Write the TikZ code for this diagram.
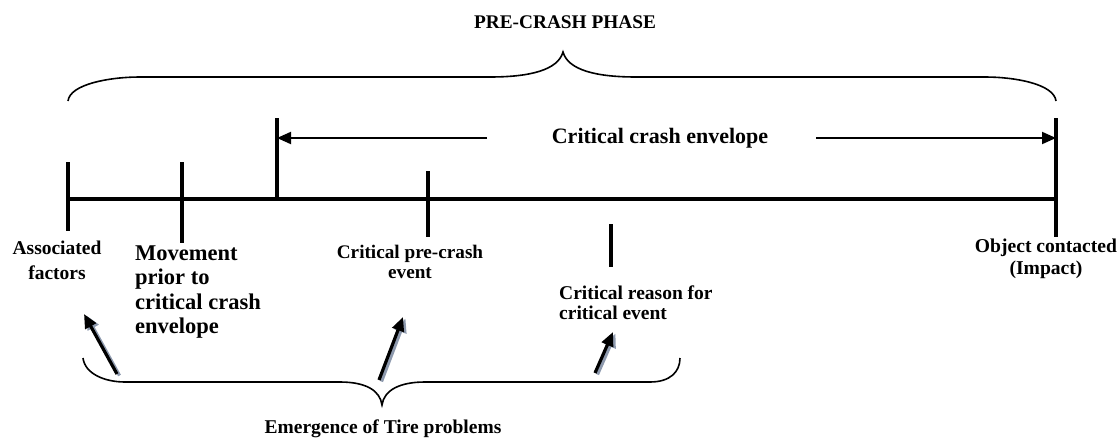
\documentclass[tikz,border=0pt]{standalone}
\usepackage{fontspec}
\setmainfont{Liberation Serif}
\usetikzlibrary{arrows.meta}
\definecolor{shadowgray}{HTML}{8E9AAE}
\begin{document}
\begin{tikzpicture}[x=1pt,y=-1pt,
  lbl/.style={font=\bfseries, inner sep=0pt},
  axis/.style={line width=4pt},
  brace/.style={line width=1.6pt},
  env/.style={line width=2pt,-{Triangle[length=14pt,width=12pt]}},
  uparrow/.style={line width=3.2pt,-{Triangle[length=14pt,width=12pt]}},
  upshadow/.style={uparrow, draw=shadowgray, fill=shadowgray}
]
\useasboundingbox (0,0) rectangle (1119,439);

% timeline
\coordinate (L) at (68,199);
\coordinate (R) at (1056,199);
\draw[axis] (L) -- (R);

% ticks
\coordinate (aT) at (68,162);  \coordinate (aB) at (68,231);
\coordinate (bT) at (182,162); \coordinate (bB) at (182,243);
\coordinate (cT) at (277,118); \coordinate (cB) at (277,199);
\coordinate (dT) at (428,171); \coordinate (dB) at (428,237);
\coordinate (eT) at (611,224); \coordinate (eB) at (611,267);
\coordinate (fT) at (1056,118); \coordinate (fB) at (1056,237);
\draw[axis] (aT) -- (aB);
\draw[axis] (bT) -- (bB);
\draw[axis] (cT) -- (cB);
\draw[axis] (dT) -- (dB);
\draw[axis] (eT) -- (eB);
\draw[axis] (fT) -- (fB);

% top brace
\coordinate (tbL) at (68,101);
\coordinate (tbM) at (563,52);
\coordinate (tbR) at (1056,101);
\draw[brace] (tbL) .. controls (70,84) and (110,77) .. (140,77) -- (490,77)
  .. controls (530,77) and (558,70) .. (tbM)
  .. controls (568,70) and (596,77) .. (636,77) -- (985,77)
  .. controls (1015,77) and (1054,84) .. (tbR);
\node[lbl, font=\bfseries\fontsize{19.3}{23}\selectfont] (phase) at (565,22) {PRE-CRASH PHASE};

% critical crash envelope
\node[lbl, font=\bfseries\fontsize{22}{26}\selectfont] (envelope) at (660,138) {Critical crash envelope};
\coordinate (envLs) at (487,138);
\coordinate (envRs) at (816,138);
\coordinate (envLe) at (277,138);
\coordinate (envRe) at (1056,138);
\draw[env] (envLs) -- (envLe);
\draw[env] (envRs) -- (envRe);

% labels
\node[lbl, font=\bfseries\fontsize{19.5}{25}\selectfont, align=center] (assoc) at (57,260) {Associated\\factors};
\node[lbl, font=\bfseries\fontsize{22.5}{24.6}\selectfont, align=left, anchor=west] (move) at (135,292) {Movement\\prior to\\critical crash\\envelope};
\node[lbl, font=\bfseries\fontsize{19.2}{20.5}\selectfont, align=center] (event) at (410,262) {Critical pre-crash\\event};
\node[lbl, font=\bfseries\fontsize{19.5}{20}\selectfont, align=left, anchor=west] (reason) at (559,303) {Critical reason for\\critical event};
\node[lbl, font=\bfseries\fontsize{19.6}{22}\selectfont, align=center] (object) at (1046,259) {Object contacted\\(Impact)};

% bottom brace
\coordinate (bbL) at (83,358);
\coordinate (bbM) at (382,405);
\coordinate (bbR) at (680,358);
\draw[brace] (bbL) .. controls (85,374) and (105,382) .. (125,382) -- (340,382)
  .. controls (365,382) and (380,390) .. (bbM)
  .. controls (384,390) and (400,382) .. (425,382) -- (650,382)
  .. controls (670,382) and (680,372) .. (bbR);
\node[lbl, font=\bfseries\fontsize{19.5}{22}\selectfont] (tire) at (383,429) {Emergence of Tire problems};

% upward arrows with shadow
\coordinate (t1) at (117,374); \coordinate (h1) at (84,314);
\coordinate (t2) at (379,380); \coordinate (h2) at (403,317);
\coordinate (t3) at (595,373); \coordinate (h3) at (613,332);
\draw[upshadow] ([shift={(2.5,1.5)}]t1) -- ([shift={(2.5,1.5)}]h1);
\draw[upshadow] ([shift={(2.5,1.5)}]t2) -- ([shift={(2.5,1.5)}]h2);
\draw[upshadow] ([shift={(2.5,1.5)}]t3) -- ([shift={(2.5,1.5)}]h3);
\draw[uparrow] (t1) -- (h1);
\draw[uparrow] (t2) -- (h2);
\draw[uparrow] (t3) -- (h3);
\end{tikzpicture}
\end{document}
